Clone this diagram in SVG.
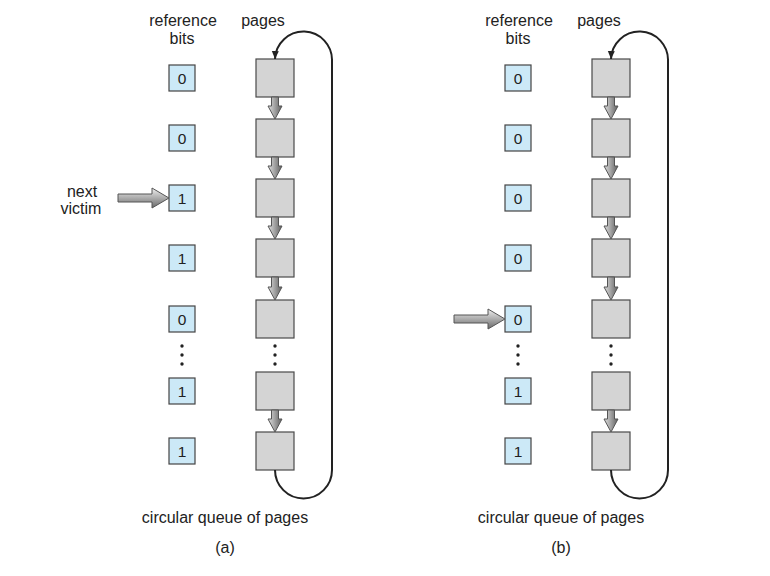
<svg xmlns="http://www.w3.org/2000/svg" width="770" height="576" viewBox="0 0 770 576">
<defs>
<style>
text{font-family:"Liberation Sans",Arial,sans-serif;fill:#222;}
.lbl{font-size:16px;text-anchor:middle;}
.num{font-size:15.5px;text-anchor:middle;}
.bit{fill:#cce9f7;stroke:#444;stroke-width:1.2;}
.page{fill:#d4d4d4;stroke:#4a4a4a;stroke-width:1.2;}
.darr{fill:url(#gDown);stroke:#555;stroke-width:1;}
.rarr{fill:url(#gRight);stroke:#555;stroke-width:1;}
.loop{fill:none;stroke:#222;stroke-width:2;}
.dot{fill:#222;}
</style>
<linearGradient id="gDown" x1="0" y1="0" x2="1" y2="0">
<stop offset="0" stop-color="#e0e0e0"/><stop offset="1" stop-color="#606060"/>
</linearGradient>
<linearGradient id="gRight" x1="0" y1="0" x2="0" y2="1">
<stop offset="0" stop-color="#eeeeee"/><stop offset="1" stop-color="#6a6a6a"/>
</linearGradient>
<marker id="ah" markerWidth="10" markerHeight="10" refX="8" refY="5" orient="auto" markerUnits="userSpaceOnUse">
<path d="M0,1.5 L8,5 L0,8.5 Z" fill="#222"/>
</marker>
</defs>
<rect width="770" height="576" fill="#fff"/>

<g id="panel-a">
<g id="a-headers">
<text class="lbl" x="183" y="26">reference</text>
<text class="lbl" x="182" y="44">bits</text>
<text class="lbl" x="263" y="26">pages</text>
</g>
<g id="a-bit1"><rect class="bit" x="169" y="65" width="26" height="26"/><text class="num" x="182" y="83.5">0</text></g>
<g id="a-bit2"><rect class="bit" x="169" y="125" width="26" height="26"/><text class="num" x="182" y="143.5">0</text></g>
<g id="a-bit3"><rect class="bit" x="169" y="185" width="26" height="26"/><text class="num" x="182" y="203.5">1</text></g>
<g id="a-bit4"><rect class="bit" x="169" y="245" width="26" height="26"/><text class="num" x="182" y="263.5">1</text></g>
<g id="a-bit5"><rect class="bit" x="169" y="306" width="26" height="26"/><text class="num" x="182" y="324.5">0</text></g>
<g id="a-bit6"><rect class="bit" x="169" y="378" width="26" height="26"/><text class="num" x="182" y="396.5">1</text></g>
<g id="a-bit7"><rect class="bit" x="169" y="438" width="26" height="26"/><text class="num" x="182" y="456.5">1</text></g>
<g id="a-bitdots"><circle class="dot" cx="182" cy="346" r="1.7"/><circle class="dot" cx="182" cy="355" r="1.7"/><circle class="dot" cx="182" cy="364" r="1.7"/></g>

<g id="a-page1"><rect class="page" x="256" y="59" width="38" height="38"/></g>
<g id="a-page2"><rect class="page" x="256" y="119" width="38" height="38"/></g>
<g id="a-page3"><rect class="page" x="256" y="179" width="38" height="38"/></g>
<g id="a-page4"><rect class="page" x="256" y="239" width="38" height="38"/></g>
<g id="a-page5"><rect class="page" x="256" y="300" width="38" height="38"/></g>
<g id="a-page6"><rect class="page" x="256" y="372" width="38" height="38"/></g>
<g id="a-page7"><rect class="page" x="256" y="432" width="38" height="38"/></g>
<g id="a-pagedots"><circle class="dot" cx="275" cy="346" r="1.7"/><circle class="dot" cx="275" cy="355" r="1.7"/><circle class="dot" cx="275" cy="364" r="1.7"/></g>

<g id="a-victim">
<text class="lbl" x="82" y="197">next</text>
<text class="lbl" x="81" y="214">victim</text>
</g>

<g id="a-connectors">
<path class="darr" d="M271.5,97 H278.5 V106 H282 L275,119 L268,106 H271.5 Z"/>
<path class="darr" d="M271.5,157 H278.5 V166 H282 L275,179 L268,166 H271.5 Z"/>
<path class="darr" d="M271.5,217 H278.5 V226 H282 L275,239 L268,226 H271.5 Z"/>
<path class="darr" d="M271.5,277 H278.5 V287 H282 L275,300 L268,287 H271.5 Z"/>
<path class="darr" d="M271.5,410 H278.5 V419 H282 L275,432 L268,419 H271.5 Z"/>
<path class="rarr" d="M118,194 H152 V188 L169,198 L152,208 V202 H118 Z"/>
<path class="loop" marker-end="url(#ah)" d="M275,470 A28.5,28.5 0 0 0 332,470 V61 A28.5,28.5 0 0 0 275,59"/>
</g>
<g id="a-captions">
<text class="lbl" x="225" y="523">circular queue of pages</text>
<text class="lbl" x="225" y="553">(a)</text>
</g>
</g>

<g id="panel-b">
<g id="b-headers">
<text class="lbl" x="519" y="26">reference</text>
<text class="lbl" x="518" y="44">bits</text>
<text class="lbl" x="599" y="26">pages</text>
</g>
<g id="b-bit1"><rect class="bit" x="505" y="65" width="26" height="26"/><text class="num" x="518" y="83.5">0</text></g>
<g id="b-bit2"><rect class="bit" x="505" y="125" width="26" height="26"/><text class="num" x="518" y="143.5">0</text></g>
<g id="b-bit3"><rect class="bit" x="505" y="185" width="26" height="26"/><text class="num" x="518" y="203.5">0</text></g>
<g id="b-bit4"><rect class="bit" x="505" y="245" width="26" height="26"/><text class="num" x="518" y="263.5">0</text></g>
<g id="b-bit5"><rect class="bit" x="505" y="306" width="26" height="26"/><text class="num" x="518" y="324.5">0</text></g>
<g id="b-bit6"><rect class="bit" x="505" y="378" width="26" height="26"/><text class="num" x="518" y="396.5">1</text></g>
<g id="b-bit7"><rect class="bit" x="505" y="438" width="26" height="26"/><text class="num" x="518" y="456.5">1</text></g>
<g id="b-bitdots"><circle class="dot" cx="518" cy="346" r="1.7"/><circle class="dot" cx="518" cy="355" r="1.7"/><circle class="dot" cx="518" cy="364" r="1.7"/></g>

<g id="b-page1"><rect class="page" x="592" y="59" width="38" height="38"/></g>
<g id="b-page2"><rect class="page" x="592" y="119" width="38" height="38"/></g>
<g id="b-page3"><rect class="page" x="592" y="179" width="38" height="38"/></g>
<g id="b-page4"><rect class="page" x="592" y="239" width="38" height="38"/></g>
<g id="b-page5"><rect class="page" x="592" y="300" width="38" height="38"/></g>
<g id="b-page6"><rect class="page" x="592" y="372" width="38" height="38"/></g>
<g id="b-page7"><rect class="page" x="592" y="432" width="38" height="38"/></g>
<g id="b-pagedots"><circle class="dot" cx="611" cy="346" r="1.7"/><circle class="dot" cx="611" cy="355" r="1.7"/><circle class="dot" cx="611" cy="364" r="1.7"/></g>

<g id="b-connectors">
<path class="darr" d="M607.5,97 H614.5 V106 H618 L611,119 L604,106 H607.5 Z"/>
<path class="darr" d="M607.5,157 H614.5 V166 H618 L611,179 L604,166 H607.5 Z"/>
<path class="darr" d="M607.5,217 H614.5 V226 H618 L611,239 L604,226 H607.5 Z"/>
<path class="darr" d="M607.5,277 H614.5 V287 H618 L611,300 L604,287 H607.5 Z"/>
<path class="darr" d="M607.5,410 H614.5 V419 H618 L611,432 L604,419 H607.5 Z"/>
<path class="rarr" d="M454,315 H488 V309 L505,319 L488,329 V323 H454 Z"/>
<path class="loop" marker-end="url(#ah)" d="M611,470 A28.5,28.5 0 0 0 668,470 V61 A28.5,28.5 0 0 0 611,59"/>
</g>
<g id="b-captions">
<text class="lbl" x="561" y="523">circular queue of pages</text>
<text class="lbl" x="561" y="553">(b)</text>
</g>
</g>
</svg>
